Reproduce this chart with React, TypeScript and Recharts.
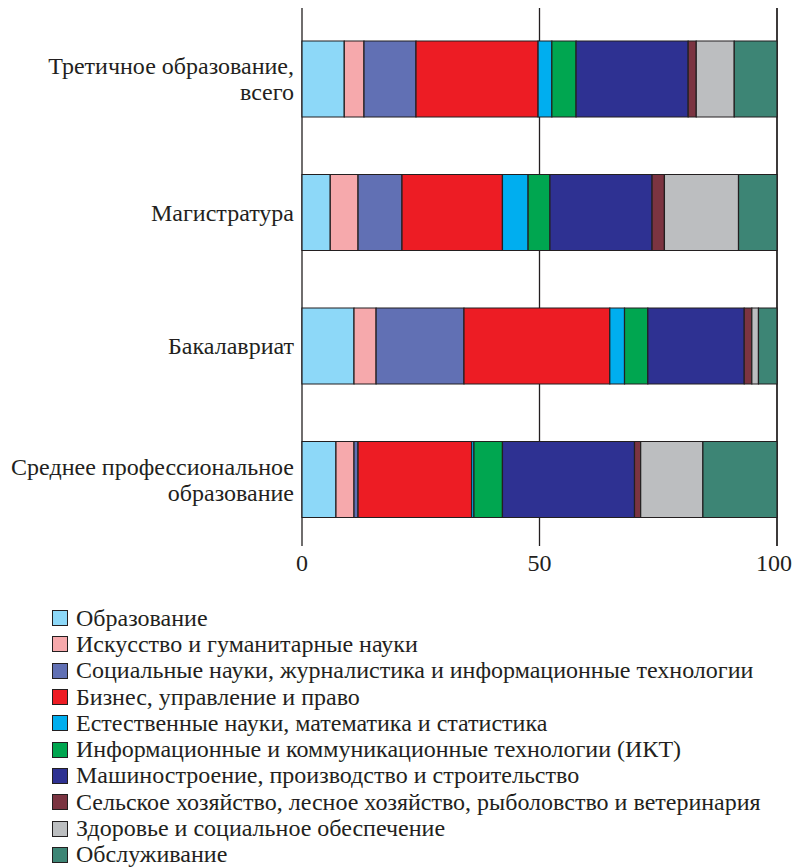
import React from 'react'
import { BarChart, Bar, XAxis, YAxis, CartesianGrid } from 'recharts'

const categories = [
  'Третичное образование,\nвсего',
  'Магистратура',
  'Бакалавриат',
  'Среднее профессиональное\nобразование'
]

const seriesNames = [
  'Образование',
  'Искусство и гуманитарные науки',
  'Социальные науки, журналистика и информационные технологии',
  'Бизнес, управление и право',
  'Естественные науки, математика и статистика',
  'Информационные и коммуникационные технологии (ИКТ)',
  'Машиностроение, производство и строительство',
  'Сельское хозяйство, лесное хозяйство, рыболовство и ветеринария',
  'Здоровье и социальное обеспечение',
  'Обслуживание'
]

const obrazovanie = [8.9, 5.95, 10.95, 7.15]
const iskusstvo = [4.15, 5.85, 4.65, 3.8]
const socialnye = [10.95, 9.25, 18.5, 0.85]
const biznes = [25.7, 21.15, 30.7, 23.9]
const estestvennye = [2.9, 5.4, 3.1, 0.5]
const ikt = [5.1, 4.6, 4.9, 6.0]
const mashinostroenie = [23.6, 21.5, 20.3, 27.8]
const selskoe = [1.7, 2.6, 1.6, 1.3]
const zdorovie = [8.0, 15.6, 1.4, 13.1]
const obsluzhivanie = [9.0, 8.1, 3.9, 15.6]

const xTicks = [0, 50, 100]

const COLORS = ['#8dd8f8', '#f6a9ac', '#6170b4', '#ed1c24', '#00aeef', '#00a650', '#2e3192', '#7b3441', '#bcbec0', '#3d8575']

const allSeries = [obrazovanie, iskusstvo, socialnye, biznes, estestvennye, ikt, mashinostroenie, selskoe, zdorovie, obsluzhivanie]

const data = categories.map((name, i) => {
  const row: any = { name }
  allSeries.forEach((s, j) => { row['s' + j] = s[i] })
  return row
})

const FONT = '"Liberation Serif", "Times New Roman", serif'

const CategoryTick = (props: any) => {
  const { x, y, payload } = props
  const lines = String(payload.value).split('\n')
  const start = -((lines.length - 1) * 26) / 2
  return (
    <text x={x} y={y} textAnchor="end" fontSize={24} fontFamily={FONT} fill="#231f20">
      {lines.map((l, i) => (
        <tspan key={i} x={x} y={y + start + i * 26} dy="0.35em">{l}</tspan>
      ))}
    </text>
  )
}

const App: React.FC = () => {
  return (
    <div style={{ position: 'absolute', left: 0, top: 0, width: 792, height: 867, background: '#fff' }}>
      <BarChart
        width={792}
        height={580}
        data={data}
        layout="vertical"
        margin={{ top: 8, right: 15, left: 0, bottom: 0 }}
      >
        <CartesianGrid horizontal={false} stroke="#231f20" strokeWidth={1.3} />
        <XAxis
          type="number"
          domain={[0, 100]}
          ticks={xTicks}
          axisLine={false}
          tickLine={false}
          height={34}
          tickMargin={2}
          tick={{ fontSize: 24, fontFamily: FONT, fill: '#231f20' }}
        />
        <YAxis
          type="category"
          dataKey="name"
          width={302}
          axisLine={false}
          tickLine={false}
          padding={{ top: 4, bottom: 0 }}
          tick={<CategoryTick />}
          interval={0}
        />
        {seriesNames.map((n, j) => (
          <Bar
            key={n}
            dataKey={'s' + j}
            name={n}
            stackId="a"
            fill={COLORS[j]}
            stroke="#231f20"
            strokeWidth={1.2}
            barSize={76}
            isAnimationActive={false}
          />
        ))}
      </BarChart>
      <div style={{ position: 'absolute', left: 52, top: 605, fontFamily: FONT, fontSize: 24, color: '#231f20' }}>
        {seriesNames.map((n, j) => (
          <div key={n} style={{ display: 'flex', alignItems: 'center', height: 26.3, whiteSpace: 'nowrap' }}>
            <span style={{ display: 'inline-block', width: 14, height: 14, background: COLORS[j], border: '1.5px solid #231f20', marginRight: 8, flexShrink: 0 }} />
            <span>{n}</span>
          </div>
        ))}
      </div>
    </div>
  )
}

export default App
